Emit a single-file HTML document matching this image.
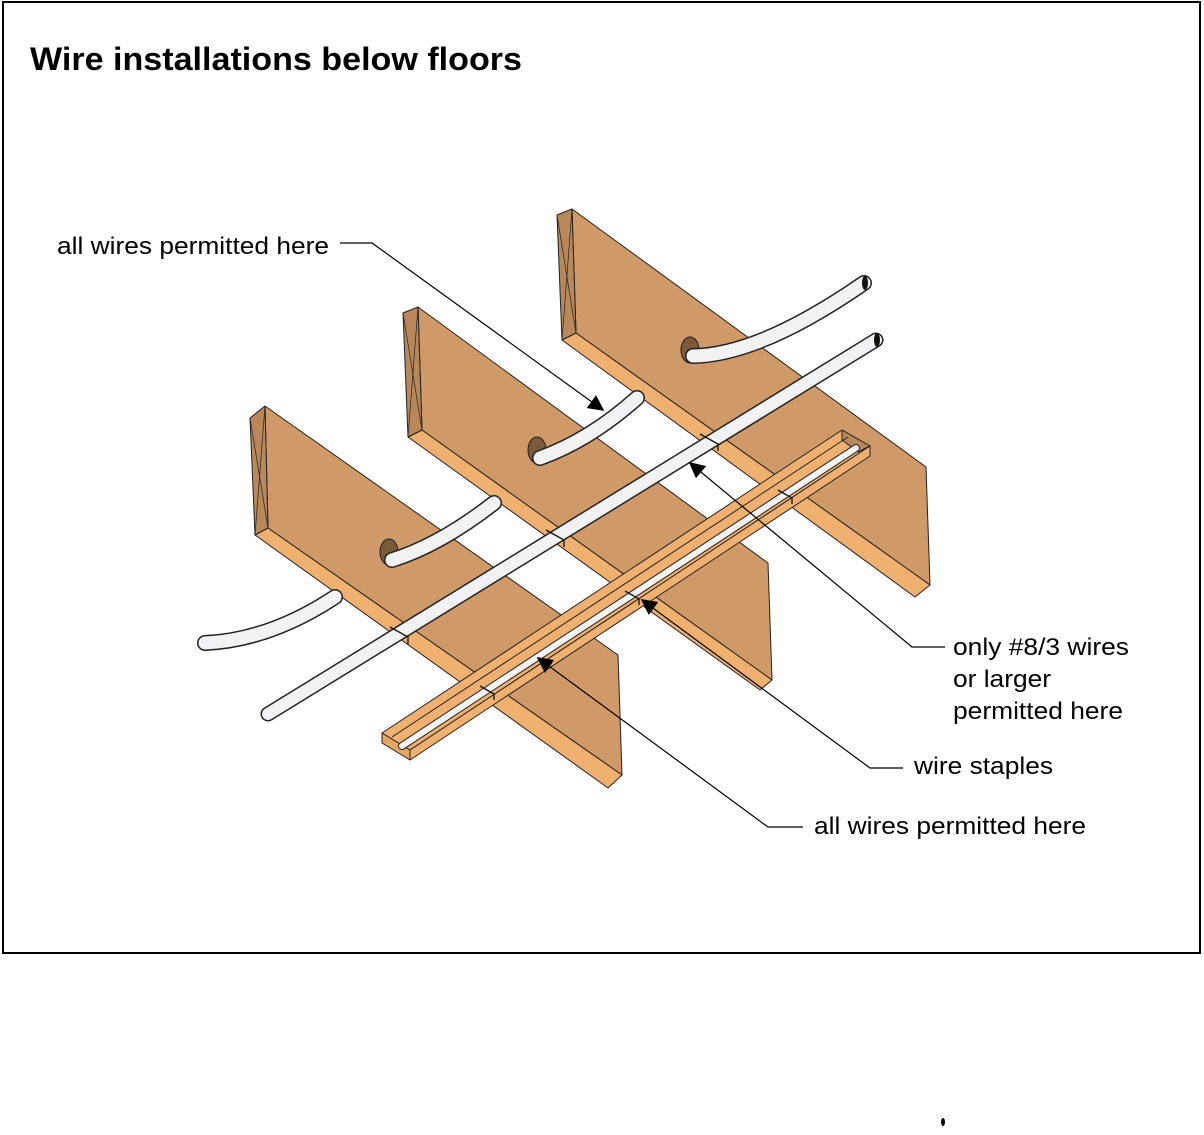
<!DOCTYPE html>
<html><head><style>
body{margin:0;background:#fff;width:1204px;height:1130px;overflow:hidden;font-family:"Liberation Sans",Arial,sans-serif}
</style></head><body>
<svg width="1204" height="1130" viewBox="0 0 1204 1130" xmlns="http://www.w3.org/2000/svg">
<rect x="3" y="2" width="1197" height="951" fill="#fff" stroke="#000" stroke-width="2"/>
<text x="30" y="70" font-family="Liberation Sans, Arial, sans-serif" font-weight="bold" font-size="32" textLength="492" lengthAdjust="spacingAndGlyphs">Wire installations below floors</text>
<defs>
<marker id="ar" viewBox="0 0 10 10" refX="9" refY="5" markerWidth="16" markerHeight="16" markerUnits="userSpaceOnUse" orient="auto"><path d="M0,0L10,5L0,10z" fill="#000"/></marker>
</defs>
<g stroke="#222" stroke-width="1" stroke-linejoin="round">
<polygon points="572,209 926,467 930,585 576,333" fill="#CF9A68"/>
<polygon points="562,340 576,333 930,585 915,597" fill="#F0B070"/>
<polygon points="557,215 572,209 576,333 562,340" fill="#B8875A"/>
<path d="M557,215 L576,333 M572,209 L562,340" fill="none" stroke-width="0.7"/>
<polygon points="418,307 768,563 772,680 422,430" fill="#CF9A68"/>
<polygon points="408,437 422,430 772,680 760,690" fill="#F0B070"/>
<polygon points="403,313 418,307 422,430 408,437" fill="#B8875A"/>
<path d="M403,313 L422,430 M418,307 L408,437" fill="none" stroke-width="0.7"/>
<polygon points="265,406 618,655 622,775 268,528" fill="#CF9A68"/>
<polygon points="255,535 268,528 622,775 608,788" fill="#F0B070"/>
<polygon points="250,418 265,406 268,528 255,535" fill="#B8875A"/>
<path d="M250,418 L268,528 M265,406 L255,535" fill="none" stroke-width="0.7"/>
<ellipse cx="389" cy="552" rx="9" ry="13" fill="#7a5a3a"/>
<ellipse cx="537" cy="450" rx="9" ry="13" fill="#7a5a3a"/>
<ellipse cx="690" cy="350" rx="9" ry="13" fill="#7a5a3a"/>
</g>
<g fill="none" stroke-linecap="round">
<g stroke="#222" stroke-width="16">
<path d="M205,643 Q270,640 335,597"/>
<path d="M392,560 Q440,545 494,503"/>
<path d="M540,458 Q590,440 637,398"/>
<path d="M693,356 Q760,355 864,283"/>
</g>
<g stroke="#f2f2f4" stroke-width="13">
<path d="M205,643 Q270,640 335,597"/>
<path d="M392,560 Q440,545 494,503"/>
<path d="M540,458 Q590,440 637,398"/>
<path d="M693,356 Q760,355 864,283"/>
</g>
<path d="M268,714 L876,340" stroke="#222" stroke-width="15"/>
<path d="M268,714 L876,340" stroke="#f2f2f4" stroke-width="12"/>
</g>
<ellipse cx="865" cy="283" rx="3" ry="7" fill="#111"/>
<ellipse cx="877" cy="340" rx="3" ry="7" fill="#111"/>
<g stroke="#111" stroke-width="1.3" fill="none">
<path d="M390,627 L408,637 L408,644"/>
<path d="M546,530 L564,540 L564,547"/>
<path d="M700,434 L718,444 L718,451"/>
</g>
<g stroke="#222" stroke-width="1" stroke-linejoin="round">
<polygon points="382,733 842,430 870,446 410,750" fill="#F0B070"/>
<polygon points="382,733 410,750 410,760 382,743" fill="#E8A560"/>
<polygon points="410,750 870,446 870,456 410,760" fill="#F0B070"/>
<polygon points="842,430 870,446 858,452 842,440" fill="#B8875A"/>
<path d="M392,737 L848,437" fill="none"/>
</g>
<path d="M402,746 L856,448" stroke="#222" stroke-width="8" stroke-linecap="round"/>
<path d="M402,746 L856,448" stroke="#f4f4f4" stroke-width="6" stroke-linecap="round"/>
<g stroke="#111" stroke-width="1.3" fill="none">
<path d="M480,686 L494,694 L494,700"/>
<path d="M625,591 L639,599 L639,605"/>
<path d="M778,490 L792,498 L792,504"/>
</g>
<g stroke="#000" stroke-width="1.2" fill="none">
<path d="M340,243 L372,243 L603,410" marker-end="url(#ar)"/>
<path d="M945,647 L912,647 L690,463" marker-end="url(#ar)"/>
<path d="M903,768 L870,768 L642,600" marker-end="url(#ar)"/>
<path d="M803,827 L768,827 L538,658" marker-end="url(#ar)"/>
</g>
<g font-family="Liberation Sans, Arial, sans-serif" font-size="24" fill="#000" lengthAdjust="spacingAndGlyphs">
<text x="57" y="254" textLength="272" lengthAdjust="spacingAndGlyphs">all wires permitted here</text>
<text x="953" y="655" textLength="176" lengthAdjust="spacingAndGlyphs">only #8/3 wires</text>
<text x="953" y="687" textLength="98" lengthAdjust="spacingAndGlyphs">or larger</text>
<text x="953" y="719" textLength="170" lengthAdjust="spacingAndGlyphs">permitted here</text>
<text x="914" y="774" textLength="139" lengthAdjust="spacingAndGlyphs">wire staples</text>
<text x="814" y="834" textLength="272" lengthAdjust="spacingAndGlyphs">all wires permitted here</text>
</g>
<ellipse cx="943" cy="1122" rx="2" ry="4" fill="#000"/>
</svg>
</body></html>
